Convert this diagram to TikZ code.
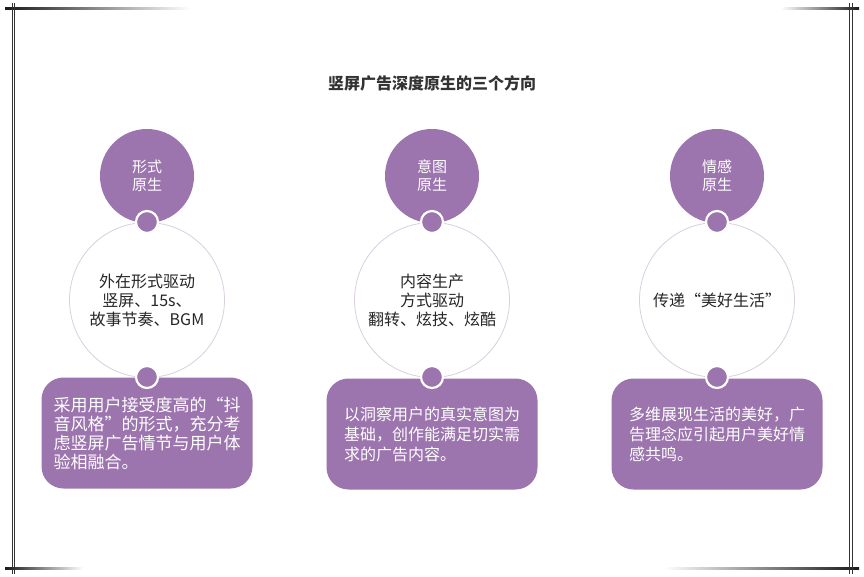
\documentclass[tikz,border=0pt]{standalone}
\usepackage{fontspec}
\setmainfont{Noto Sans CJK SC}
\newfontfamily\cjk{Noto Sans CJK SC}
\usetikzlibrary{positioning}
\definecolor{pur}{HTML}{9C74AE}
\definecolor{ringc}{HTML}{D9CFE0}
\definecolor{titlec}{HTML}{333333}
\tikzset{
  topcirc/.style={circle, fill=pur, minimum size=94pt, inner sep=0pt, text=white, align=center, font=\fontsize{15}{18}\selectfont},
  bigcirc/.style={circle, draw=ringc, line width=0.8pt, fill=white, minimum size=155pt, inner sep=0pt, text=black!85, align=center, font=\fontsize{16}{19}\selectfont},
  dot/.style={circle, fill=pur, draw=white, line width=2.2pt, minimum size=22pt, inner sep=0pt},
  infobox/.style={rounded corners=22pt, fill=pur, minimum width=211pt, minimum height=111pt, inner sep=0pt, text=white, align=left},
  frameline/.style={line width=0.6pt, black!80}
}
\begin{document}
\begin{tikzpicture}[x=1pt,y=-1pt]
\useasboundingbox (0,0) rectangle (864,577);
% frame
\shade[left color=black!90, right color=white] (5,8) rectangle (190,10);
\shade[left color=white, right color=black!90] (781,8) rectangle (859,10);
\shade[left color=black!90, right color=white] (5,567) rectangle (83,569);
\shade[left color=white, right color=black!90] (664,567) rectangle (859,569);
\draw[frameline] (12,3) -- (12,574);
\draw[frameline] (14.3,3) -- (14.3,574);
\draw[frameline] (849.7,3) -- (849.7,574);
\draw[frameline] (852,3) -- (852,574);
% title
\node[text=titlec, font=\fontsize{16}{19}\selectfont\bfseries] (title) at (432,83) {竖屏广告深度原生的三个方向};
% column 1
\node[bigcirc] (c1) at (147,300) {外在形式驱动\\竖屏、15s、\\故事节奏、BGM};
\node[topcirc] (t1) at (147,176) {形式\\原生};
\node[infobox, font=\fontsize{17}{19}\selectfont] (b1) at (147,433) {采用用户接受度高的“抖\\音风格”的形式，充分考\\虑竖屏广告情节与用户体\\验相融合。};
\node[dot] (d1a) at (147,222) {};
\node[dot] (d1b) at (147,377) {};
% column 2
\node[bigcirc] (c2) at (432,300) {内容生产\\方式驱动\\翻转、炫技、炫酷};
\node[topcirc] (t2) at (432,176) {意图\\原生};
\node[infobox, font=\fontsize{16}{20}\selectfont] (b2) at (432,434) {以洞察用户的真实意图为\\基础，创作能满足切实需\\求的广告内容。};
\node[dot] (d2a) at (432,222) {};
\node[dot] (d2b) at (432,377) {};
% column 3
\node[bigcirc] (c3) at (717,300) {传递“美好生活”};
\node[topcirc] (t3) at (717,176) {情感\\原生};
\node[infobox, font=\fontsize{16}{20}\selectfont] (b3) at (717,434) {多维展现生活的美好，广\\告理念应引起用户美好情\\感共鸣。};
\node[dot] (d3a) at (717,222) {};
\node[dot] (d3b) at (717,377) {};
\end{tikzpicture}
\end{document}
